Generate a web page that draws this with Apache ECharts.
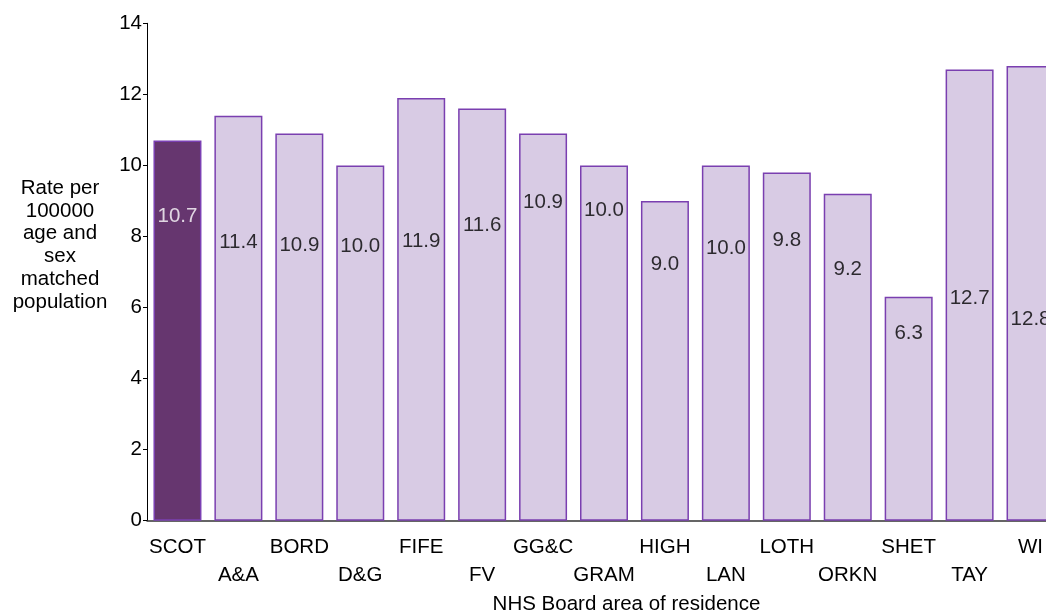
<!DOCTYPE html>
<html>
<head>
<meta charset="utf-8">
<style>html,body{margin:0;padding:0;background:#fff}#c{width:1046px;height:614px}</style>
<script src="https://cdn.jsdelivr.net/npm/echarts@6/dist/echarts.min.js"></script>
</head>
<body>
<div id="c"></div>
<script>
var categories = ['SCOT','A&A','BORD','D&G','FIFE','FV','GG&C','GRAM','HIGH','LAN','LOTH','ORKN','SHET','TAY','WI'];
var values = [10.7, 11.4, 10.9, 10.0, 11.9, 11.6, 10.9, 10.0, 9.0, 10.0, 9.8, 9.2, 6.3, 12.7, 12.8];
// level (in axis units) at which each value label sits inside its bar
var labelLevels = [8.58, 7.84, 7.74, 7.71, 7.85, 8.32, 8.95, 8.74, 7.22, 7.67, 7.90, 7.08, 5.28, 6.26, 5.67];
var yTicks = [0, 2, 4, 6, 8, 10, 12, 14];

var FONT = 'Liberation Sans, Arial, sans-serif';
var chart = echarts.init(document.getElementById('c'), null, {renderer: 'canvas'});

var barData = values.map(function (v, i) {
  if (i === 0) {
    return {value: v, itemStyle: {color: '#66366f', borderColor: '#7b40b3'}};
  }
  return v;
});
var labelData = labelLevels.map(function (l, i) {
  return i === 0 ? {value: [i, l], label: {color: '#ffffff'}} : [i, l];
});

chart.setOption({
  animation: false,
  backgroundColor: '#ffffff',
  grid: {left: 147, top: 23.3, bottom: 93.3, width: 914, containLabel: false, outerBoundsMode: 'none'},
  graphic: [{
    type: 'text',
    x: 60, y: 177,
    style: {
      text: 'Rate per\n100000\nage and\nsex\nmatched\npopulation',
      font: '20.5px ' + FONT,
      fill: '#000',
      textAlign: 'center',
      textVerticalAlign: 'top',
      lineHeight: 22.7
    }
  }],
  xAxis: {
    type: 'category',
    data: categories,
    name: 'NHS Board area of residence',
    nameLocation: 'middle',
    nameGap: 71,
    nameTextStyle: {fontFamily: FONT, fontSize: 20.5, color: '#000', padding: [0, 0, 0, 45]},
    axisLine: {show: true, lineStyle: {color: '#333', width: 1.5}},
    axisTick: {show: false},
    axisLabel: {
      interval: 0,
      margin: 13,
      fontFamily: FONT, fontSize: 20.5, color: '#000',
      lineHeight: 27.5,
      hideOverlap: false,
      formatter: function (v, i) { return i % 2 === 1 ? '\n' + v : v; }
    },
    splitLine: {show: false}
  },
  yAxis: {
    type: 'value',
    min: 0, max: 14, interval: 2,
    axisLine: {show: true, lineStyle: {color: '#000', width: 1}},
    axisTick: {show: true, length: 4, lineStyle: {color: '#000'}},
    axisLabel: {
      margin: 5,
      fontFamily: FONT, fontSize: 20.5, color: '#000',
      formatter: function (v) { return yTicks.indexOf(v) >= 0 ? String(v) : ''; }
    },
    splitLine: {show: false}
  },
  series: [{
    type: 'bar',
    data: barData,
    barWidth: 48,
    itemStyle: {color: '#d8cbe4', borderColor: '#7a3fb0', borderWidth: 1.5},
    z: 2
  }, {
    type: 'scatter',
    data: labelData,
    symbolSize: 0,
    silent: true,
    z: 5,
    itemStyle: {color: '#d8cbe4'},
    label: {
      show: true,
      position: 'inside',
      fontFamily: FONT, fontSize: 20.5,
      textBorderWidth: 0,
      textBorderColor: 'transparent',
      formatter: function (p) { return values[p.dataIndex].toFixed(1); },
      color: '#000'
    }
  }]
});
</script>
</body>
</html>
